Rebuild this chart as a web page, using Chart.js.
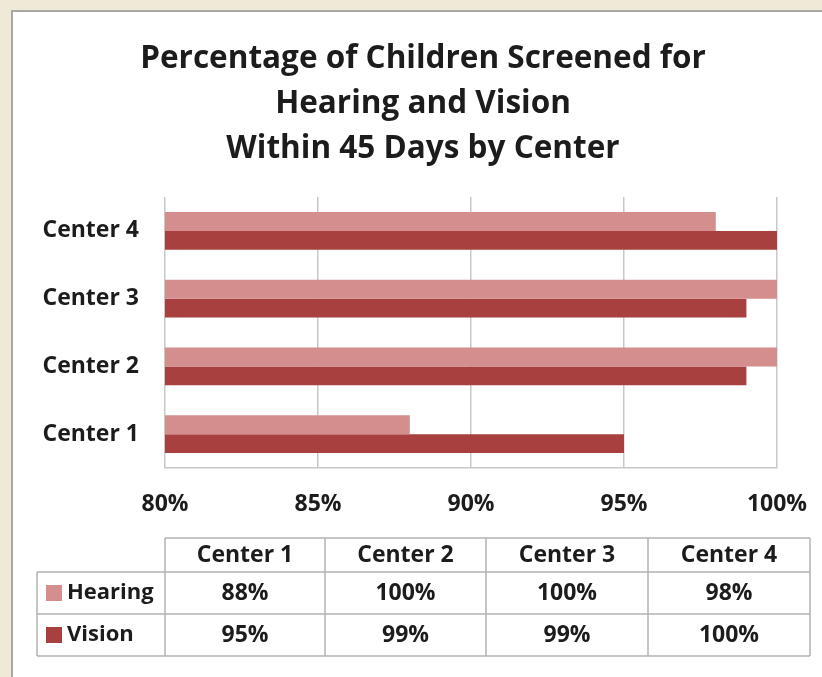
<!DOCTYPE html>
<html>
<head>
<meta charset="utf-8">
<script src="https://cdn.jsdelivr.net/npm/chart.js@4"></script>
<style>
  html, body { margin: 0; padding: 0; background: #efe9d8; }
  #wrap { width: 822px; height: 677px; }
</style>
</head>
<body>
<div id="wrap"><canvas id="myChart" width="822" height="677"></canvas></div>
<script>
const categories = ['Center 1', 'Center 2', 'Center 3', 'Center 4'];
const seriesNames = ['Hearing', 'Vision'];
const hearing = [88, 100, 100, 98];
const vision = [95, 99, 99, 100];
const xTicks = [80, 85, 90, 95, 100];
const titleLines = ['Percentage of Children Screened for', 'Hearing and Vision', 'Within 45 Days by Center'];

const colors = ['#d48e8e', '#a8403f'];
const FONT = '"Open Sans"';
const textColor = '#1c1c1c';

// frame + title drawn around the chart
const framePlugin = {
    id: 'frame',
    beforeDraw(chart) {
        const ctx = chart.ctx;
        ctx.save();
        ctx.fillStyle = '#efe9d8';
        ctx.fillRect(0, 0, chart.width, chart.height);
        ctx.fillStyle = '#ffffff';
        ctx.fillRect(11, 10, chart.width - 11, chart.height - 10);
        ctx.strokeStyle = '#a9a89f';
        ctx.lineWidth = 2;
        ctx.beginPath();
        ctx.moveTo(12, chart.height);
        ctx.lineTo(12, 11);
        ctx.lineTo(chart.width, 11);
        ctx.stroke();

        ctx.fillStyle = textColor;
        ctx.font = 'bold 31.5px ' + FONT;
        ctx.textAlign = 'center';
        ctx.textBaseline = 'middle';
        titleLines.forEach((t, i) => ctx.fillText(t, 423, 59 + i * 45));
        ctx.restore();
    }
};

// data table under the chart
const tablePlugin = {
    id: 'dataTable',
    afterDraw(chart) {
        const ctx = chart.ctx;
        const cols = [165, 325, 486, 648, 810];
        const left = 37;
        const rows = [538, 572, 614, 656];
        const values = [hearing, vision];
        ctx.save();
        ctx.strokeStyle = '#b3b3b3';
        ctx.lineWidth = 1.5;
        ctx.beginPath();
        // header row
        ctx.moveTo(cols[0], rows[0]); ctx.lineTo(cols[4], rows[0]);
        for (let r = 1; r < rows.length; r++) {
            ctx.moveTo(left, rows[r]); ctx.lineTo(cols[4], rows[r]);
        }
        ctx.moveTo(left, rows[1]); ctx.lineTo(left, rows[3]);
        cols.forEach(c => { ctx.moveTo(c, rows[0]); ctx.lineTo(c, rows[3]); });
        ctx.stroke();

        ctx.fillStyle = textColor;
        ctx.font = 'bold 23px ' + FONT;
        ctx.textAlign = 'center';
        ctx.textBaseline = 'middle';
        categories.forEach((c, i) => {
            ctx.fillText(c, (cols[i] + cols[i + 1]) / 2, (rows[0] + rows[1]) / 2);
        });
        values.forEach((vals, s) => {
            const cy = (rows[s + 1] + rows[s + 2]) / 2;
            vals.forEach((v, i) => {
                ctx.fillText(v + '%', (cols[i] + cols[i + 1]) / 2, cy);
            });
            ctx.fillStyle = colors[s];
            ctx.fillRect(46, cy - 8, 16, 16);
            ctx.fillStyle = textColor;
            ctx.textAlign = 'left';
            ctx.font = 'bold 22px ' + FONT;
            ctx.fillText(seriesNames[s], 67, cy);
            ctx.font = 'bold 23px ' + FONT;
            ctx.textAlign = 'center';
        });
        ctx.restore();
    }
};

const ctx = document.getElementById('myChart');
new Chart(ctx, {
    type: 'bar',
    data: {
        labels: categories,
        datasets: [
            { label: seriesNames[0], data: hearing, backgroundColor: colors[0] },
            { label: seriesNames[1], data: vision, backgroundColor: colors[1] }
        ]
    },
    options: {
        indexAxis: 'y',
        responsive: false,
        animation: false,
        categoryPercentage: 0.56,
        barPercentage: 1,
        layout: { padding: { left: 10, right: 45, top: 197, bottom: 0 } },
        plugins: {
            legend: { display: false },
            tooltip: { enabled: false }
        },
        scales: {
            x: {
                min: xTicks[0],
                max: xTicks[xTicks.length - 1],
                afterBuildTicks: scale => { scale.ticks = xTicks.map(v => ({ value: v })); },
                afterFit: scale => {
                    scale.height = 209;
                    scale.paddingLeft = 0;
                    scale.paddingRight = 0;
                },
                grid: { color: '#c8c8c8', lineWidth: 1.5, drawTicks: false },
                border: { display: true, color: '#c8c8c8', width: 1.5 },
                ticks: {
                    padding: 23,
                    color: textColor,
                    font: { family: FONT, size: 23, weight: 'bold' },
                    callback: v => v + '%'
                }
            },
            y: {
                reverse: true,
                afterFit: scale => { scale.width = 155; },
                grid: { display: false },
                border: { display: false },
                ticks: {
                    padding: 18,
                    color: textColor,
                    font: { family: FONT, size: 23, weight: 'bold' }
                }
            }
        }
    },
    plugins: [framePlugin, tablePlugin]
});
</script>
</body>
</html>
